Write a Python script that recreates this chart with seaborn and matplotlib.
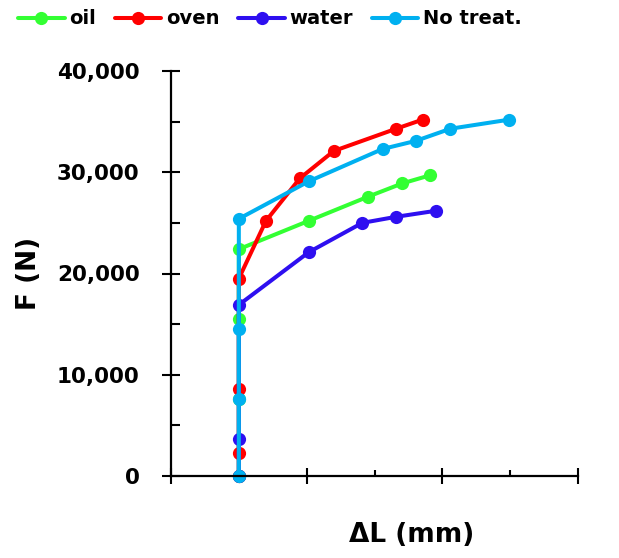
import matplotlib
matplotlib.use("Agg")
import matplotlib.pyplot as plt
import seaborn as sns
import pandas as pd
from matplotlib.ticker import MultipleLocator, FuncFormatter

# ---- data (x in arbitrary axis units, y in N) ----
series_names = ["oil", "oven", "water", "No treat."]
series_colors = ["#33FF33", "#FF0000", "#2E0FF0", "#00B0F0"]

oil_x = [1.0, 1.0, 1.0, 1.0, 2.03, 2.91, 3.41, 3.82]
oil_y = [0, 7600, 15500, 22400, 25200, 27600, 28900, 29700]

oven_x = [1.0, 1.0, 1.0, 1.0, 1.40, 1.90, 2.40, 3.32, 3.71]
oven_y = [0, 2300, 8600, 19500, 25200, 29400, 32100, 34300, 35200]

water_x = [1.0, 1.0, 1.0, 2.03, 2.82, 3.32, 3.91]
water_y = [0, 3700, 16900, 22100, 25000, 25600, 26200]

notreat_x = [1.0, 1.0, 1.0, 1.0, 2.03, 3.12, 3.61, 4.12, 4.99]
notreat_y = [0, 7600, 14500, 25400, 29100, 32300, 33100, 34300, 35200]

y_ticks = [0, 10000, 20000, 30000, 40000]

data_x = [oil_x, oven_x, water_x, notreat_x]
data_y = [oil_y, oven_y, water_y, notreat_y]

sns.set_style("ticks")
plt.rcParams["font.family"] = ["DejaVu Sans"]
plt.rcParams["font.weight"] = "bold"
plt.rcParams["text.color"] = "black"
plt.rcParams["axes.labelcolor"] = "black"
plt.rcParams["xtick.color"] = "black"
plt.rcParams["ytick.color"] = "black"

fig = plt.figure(figsize=(6.19, 5.58), dpi=100)
ax = fig.add_axes([171 / 619, 1 - 476 / 558, (578 - 171) / 619, (476 - 71) / 558])

for name, col, xs, ys in zip(series_names, series_colors, data_x, data_y):
    df = pd.DataFrame({"x": xs, "y": ys})
    sns.lineplot(data=df, x="x", y="y", sort=False, estimator=None, ax=ax,
                 color=col, lw=2.9, marker="o", markersize=9.5,
                 markeredgewidth=0, label=name, clip_on=False)

ax.set_xlim(0, 6)
ax.set_ylim(0, 40000)
ax.set_yticks(y_ticks)
ax.yaxis.set_minor_locator(MultipleLocator(5000))
ax.xaxis.set_major_locator(MultipleLocator(2))
ax.xaxis.set_minor_locator(MultipleLocator(1))
ax.yaxis.set_major_formatter(FuncFormatter(lambda v, p: f"{int(v):,}"))

for side in ["top", "right"]:
    ax.spines[side].set_visible(False)
for side in ["left", "bottom"]:
    ax.spines[side].set_linewidth(1.6)
    ax.spines[side].set_color("black")

ax.tick_params(axis="y", which="major", direction="inout", length=13, width=1.5,
               pad=16, labelsize=15.5, colors="black")
ax.tick_params(axis="y", which="minor", direction="in", length=6.5, width=1.5,
               colors="black")
ax.tick_params(axis="x", which="major", direction="inout", length=12, width=1.5,
               labelbottom=False, colors="black")
ax.tick_params(axis="x", which="minor", direction="in", length=4.5, width=1.5,
               colors="black")
for lab in ax.get_yticklabels():
    lab.set_fontweight("bold")

ax.set_xlabel("ΔL (mm)", fontsize=19, fontweight="bold", color="black")
ax.set_ylabel("F (N)", fontsize=19, fontweight="bold", color="black")
ax.xaxis.set_label_coords((412 - 171) / 407, -(522 - 476) / 405)
ax.yaxis.set_label_coords((42 - 171) / 407, 0.5)

ax.get_legend().remove()
handles, labels = ax.get_legend_handles_labels()
leg = fig.legend(handles, labels, loc="center", bbox_to_anchor=(270 / 619, 1 - 19 / 558),
                 ncol=4, frameon=False, handlelength=2.4,
                 handletextpad=0.25, columnspacing=0.95, borderaxespad=0,
                 prop={"weight": "bold", "size": 14})
for t in leg.get_texts():
    t.set_color("black")

fig.savefig("out.png", dpi=100)
